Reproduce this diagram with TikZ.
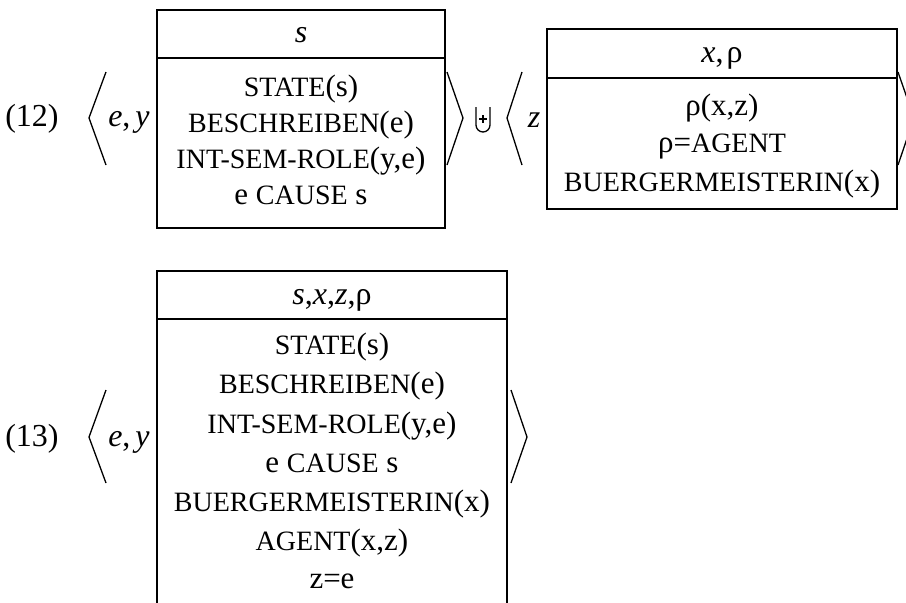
\documentclass[tikz,border=0pt]{standalone}
\usepackage{fontspec}
\setmainfont{Liberation Serif}
\newcommand\fsc[1]{{\fontsize{28}{30}\selectfont #1}}
\begin{document}
\begin{tikzpicture}[x=1pt,y=-1pt,
  txt/.style={anchor=base, inner sep=0pt, font=\fontsize{31}{36}\selectfont},
  lbl/.style={anchor=base, inner sep=0pt, font=\fontsize{32}{36}\selectfont},
  drsbox/.style={draw, line width=1.8pt, inner sep=0pt, rectangle},
  sepline/.style={line width=2pt},
  brk/.style={line width=1.3pt, line join=miter}]
\useasboundingbox (0,0) rectangle (906,603);
\begin{scope}
\clip (0,0) rectangle (906,603);
% ---------------- (12) ----------------
\node[lbl] (n12) at (32,126) {(12)};
\draw[brk] (106,72) -- (89,118) -- (106,165);
\node[lbl] (ey1) at (129,126) {\textit{e},\kern5pt\textit{y}};
% box 1
\node[drsbox, minimum width=288pt, minimum height=218pt] (b1) at (301,119) {};
\coordinate (h1) at (0,58);
\draw[sepline] (b1.west |- h1) -- (b1.east |- h1);
\node[lbl] (b1h) at (301,42) {\textit{s}};
\node[txt] (b1a) at (301,96) {\fsc{STATE}(s)};
\node[txt] (b1b) at (301,132) {\fsc{BESCHREIBEN}(e)};
\node[txt] (b1c) at (301,168) {\fsc{INT-SEM-ROLE}(y,e)};
\node[txt] (b1d) at (301,204) {e \fsc{CAUSE} s};
\draw[brk] (447,72) -- (463,118) -- (447,165);
% merge symbol
\draw[line width=1.3pt] (476,107) -- (476,125) arc[start angle=180, end angle=0, radius=7] -- (490,107);
\draw[line width=1.1pt] (479,119) -- (487,119) (483,115) -- (483,123);
\draw[brk] (522,72) -- (507,118) -- (522,165);
\node[lbl] (z2) at (534,127) {\textit{z}};
% box 2
\node[drsbox, minimum width=350pt, minimum height=180pt] (b2) at (722,119) {};
\coordinate (h2) at (0,78);
\draw[line width=1.6pt] (b2.west |- h2) -- (b2.east |- h2);
\node[lbl] (b2h) at (722,62) {\textit{x},\kern3pt ρ};
\node[txt] (b2a) at (722,115) {ρ(x,z)};
\node[txt] (b2b) at (722,152) {ρ=\fsc{AGENT}};
\node[txt] (b2c) at (722,191) {\fsc{BUERGERMEISTERIN}(x)};
\draw[brk] (898,72) -- (914,118) -- (898,165);
% ---------------- (13) ----------------
\node[lbl] (n13) at (32,446) {(13)};
\draw[brk] (106,390) -- (89,437) -- (106,483);
\node[lbl] (ey2) at (129,446) {\textit{e},\kern5pt\textit{y}};
% box 3
\node[drsbox, minimum width=350pt, minimum height=360pt] (b3) at (332,451) {};
\coordinate (h3) at (0,319);
\draw[sepline] (b3.west |- h3) -- (b3.east |- h3);
\node[lbl] (b3h) at (332,304) {\textit{s},\textit{x},\textit{z},ρ};
\node[txt] (b3a) at (332,354) {\fsc{STATE}(s)};
\node[txt] (b3b) at (332,393) {\fsc{BESCHREIBEN}(e)};
\node[txt] (b3c) at (332,433) {\fsc{INT-SEM-ROLE}(y,e)};
\node[txt] (b3d) at (332,472) {e \fsc{CAUSE} s};
\node[txt] (b3e) at (332,511) {\fsc{BUERGERMEISTERIN}(x)};
\node[txt] (b3f) at (332,550) {\fsc{AGENT}(x,z)};
\node[txt] (b3g) at (332,588) {z=e};
\draw[brk] (511,390) -- (527,437) -- (511,483);
\end{scope}
\end{tikzpicture}
\end{document}
